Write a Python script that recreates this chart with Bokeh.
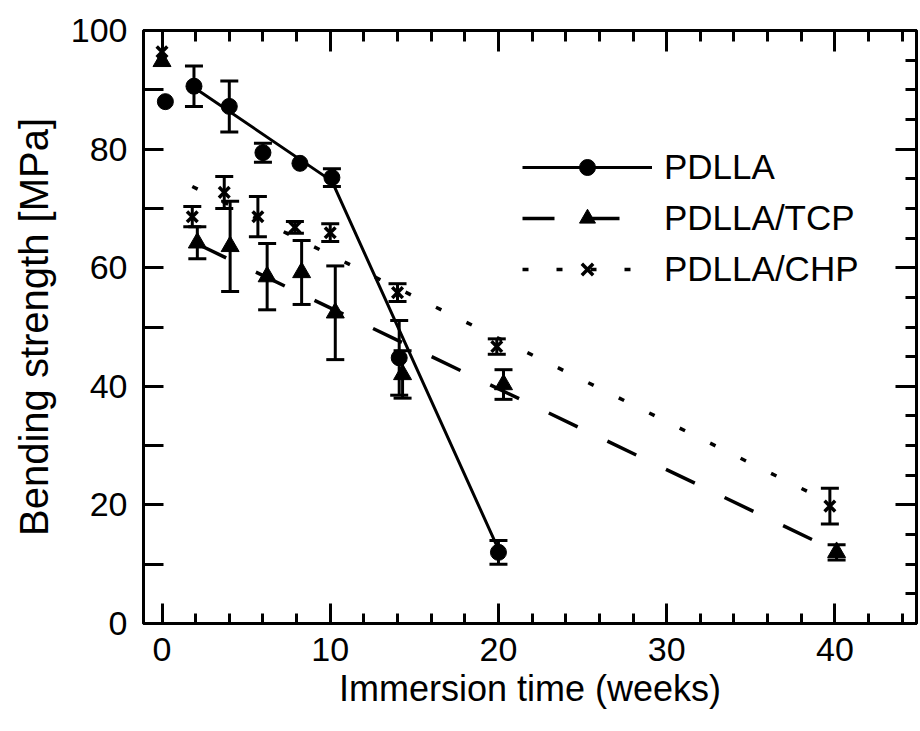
from bokeh.plotting import figure
from bokeh.models import (ColumnDataSource, Whisker, TeeHead, Legend, LegendItem,
                          LinearAxis, FixedTicker, Range1d, CustomJSTickFormatter)
from bokeh.embed import file_html
from bokeh.resources import INLINE

# ---------------- data ----------------
pdlla_x = [0.2, 1.9, 4.0, 6.0, 8.2, 10.1, 14.1, 20.0]
pdlla_y = [88.0, 90.6, 87.2, 79.4, 77.6, 75.2, 44.8, 12.0]
pdlla_err = [0.0, 3.4, 4.3, 1.6, 0.0, 1.5, 6.3, 2.0]

tcp_x = [0.0, 2.1, 4.05, 6.25, 8.3, 10.3, 14.3, 20.3, 40.1]
tcp_y = [94.8, 64.2, 63.6, 58.5, 59.2, 52.4, 42.0, 40.3, 12.0]
tcp_err = [0.0, 2.7, 7.6, 5.6, 5.4, 7.9, 4.0, 2.5, 1.3]

chp_x = [0.0, 1.8, 3.7, 5.7, 7.9, 10.0, 14.0, 19.9, 39.7]
chp_y = [96.4, 68.6, 72.7, 68.6, 66.8, 65.9, 55.8, 46.7, 19.8]
chp_err = [0.0, 1.7, 2.7, 3.4, 1.0, 1.5, 1.5, 1.3, 3.0]

# trend lines
pdlla_fit_x = [1.9, 10.1, 20.0]
pdlla_fit_y = [90.4, 74.6, 12.5]
tcp_fit_x = [2.1, 40.0]
tcp_fit_y = [64.0, 12.3]
chp_fit_x = [1.8, 39.7]
chp_fit_y = [73.7, 20.4]

x_ticks = [0, 10, 20, 30, 40]
y_ticks = [0, 20, 40, 60, 80, 100]

FONT = "Liberation Sans"

p = figure(width=918, height=722, output_backend="svg", toolbar_location=None,
           x_range=Range1d(-1.1, 44.85), y_range=Range1d(0, 100),
           min_border_left=143, min_border_right=2, min_border_top=30,
           min_border_bottom=99)
p.grid.visible = False
p.outline_line_color = "black"
p.outline_line_width = 3
p.background_fill_color = "white"
p.border_fill_color = "white"

# ---------------- axes ----------------
xa = p.xaxis[0]
xa.ticker = FixedTicker(ticks=x_ticks, minor_ticks=list(range(0, 46, 2)))
ya = p.yaxis[0]
ya.ticker = FixedTicker(ticks=y_ticks, minor_ticks=[10, 30, 50, 70, 90])

for ax in (xa, ya):
    ax.axis_line_width = 3
    ax.major_tick_line_width = 3
    ax.minor_tick_line_width = 3
    ax.major_tick_out = 0
    ax.minor_tick_out = 0
    ax.major_tick_in = 20
    ax.major_label_text_font = FONT
    ax.major_label_text_font_size = "34px"
    ax.major_label_text_color = "black"
    ax.axis_label_text_font = FONT
    ax.axis_label_text_font_style = "normal"
    ax.axis_label_text_color = "black"

xa.minor_tick_in = 10
ya.minor_tick_in = 20
xa.major_label_standoff = 14
ya.major_label_standoff = 16
xa.axis_label = "Immersion time (weeks)"
ya.axis_label = "Bending strength [MPa]"
xa.axis_label_text_font_size = "36px"
ya.axis_label_text_font_size = "40px"
xa.axis_label_standoff = 4
ya.axis_label_standoff = 12

blank = CustomJSTickFormatter(code="return ''")
top = LinearAxis(ticker=FixedTicker(ticks=x_ticks, minor_ticks=list(range(0, 46, 2))),
                 formatter=blank)
right = LinearAxis(ticker=FixedTicker(ticks=y_ticks, minor_ticks=list(range(0, 101, 5))),
                   formatter=blank)
for ax in (top, right):
    ax.axis_line_width = 3
    ax.major_tick_line_width = 3
    ax.minor_tick_line_width = 3
    ax.major_tick_out = 0
    ax.minor_tick_out = 0
    ax.major_tick_in = 21
    ax.minor_tick_in = 11
    ax.major_label_standoff = 0
    ax.major_label_text_font_size = "1px"
p.add_layout(top, "above")
p.add_layout(right, "right")

# ---------------- trend lines ----------------
l1 = p.line(pdlla_fit_x, pdlla_fit_y, line_color="black", line_width=3)
l2 = p.line(tcp_fit_x, tcp_fit_y, line_color="black", line_width=3.5,
            line_dash="32 33")
l3 = p.line(chp_fit_x, chp_fit_y, line_color="black", line_width=3.5,
            line_dash="6 28")

# ---------------- error bars ----------------
def add_whiskers(xs, ys, es):
    rows = [(x, y - e, y + e) for x, y, e in zip(xs, ys, es) if e > 0]
    src = ColumnDataSource(dict(x=[r[0] for r in rows],
                                lo=[r[1] for r in rows],
                                hi=[r[2] for r in rows]))
    w = Whisker(source=src, base="x", lower="lo", upper="hi",
                line_color="black", line_width=3,
                upper_head=TeeHead(size=18, line_width=3, line_color="black"),
                lower_head=TeeHead(size=18, line_width=3, line_color="black"))
    p.add_layout(w)

add_whiskers(pdlla_x, pdlla_y, pdlla_err)
add_whiskers(tcp_x, tcp_y, tcp_err)
add_whiskers(chp_x, chp_y, chp_err)

# ---------------- markers ----------------
s1 = p.scatter(pdlla_x, pdlla_y, marker="circle", size=16,
               fill_color="black", line_color="black")
s2 = p.scatter(tcp_x, tcp_y, marker="triangle", size=18,
               fill_color="black", line_color="black")
s3 = p.scatter(chp_x, chp_y, marker="x", size=15,
               line_color="black", line_width=3.5)

legend = Legend(items=[LegendItem(label="PDLLA", renderers=[l1, s1]),
                       LegendItem(label="PDLLA/TCP", renderers=[l2, s2]),
                       LegendItem(label="PDLLA/CHP", renderers=[l3, s3])],
                location=(379, 334), glyph_width=130, glyph_height=40,
                label_height=40, spacing=11, padding=0, margin=0,
                label_standoff=12, border_line_color=None,
                background_fill_alpha=0,
                label_text_font=FONT, label_text_font_size="35px",
                label_text_color="black")
p.add_layout(legend)

open("out.html", "w").write(file_html(p, INLINE))
